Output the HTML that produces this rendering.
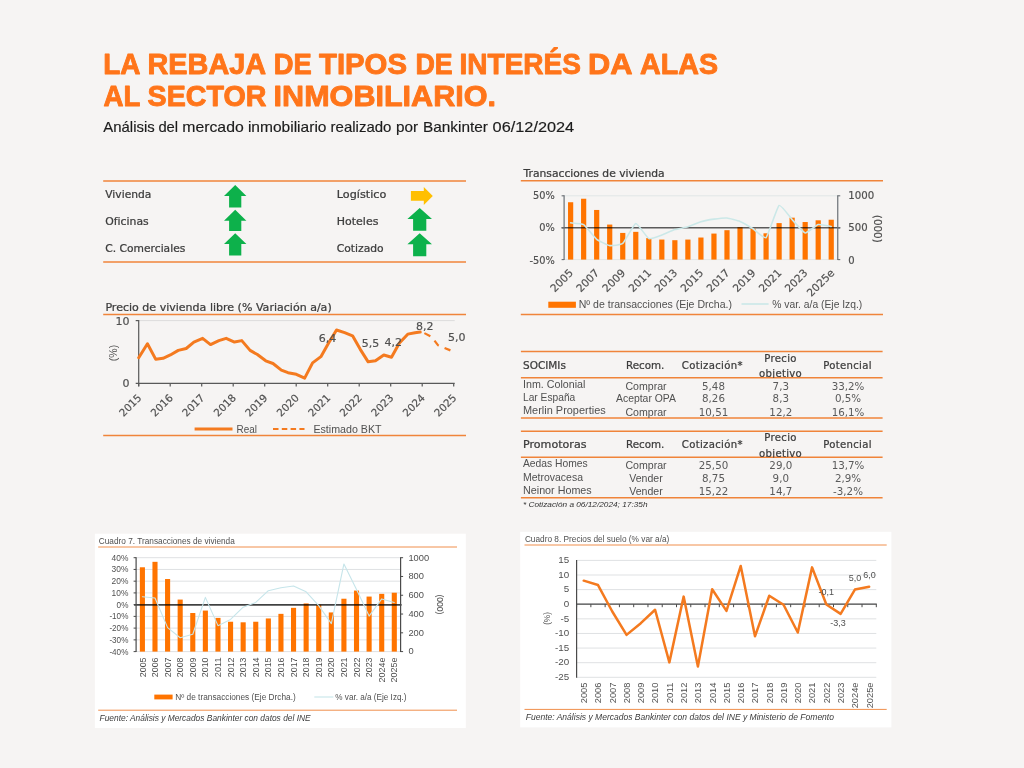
<!DOCTYPE html>
<html lang="es">
<head>
<meta charset="utf-8">
<title>La rebaja de tipos de interés da alas al sector inmobiliario</title>
<style>
html,body{margin:0;padding:0;background:#f6f4f3;}
body{width:1024px;height:768px;overflow:hidden;}
svg{display:block;font-family:'Liberation Sans', sans-serif;}
</style>
</head>
<body>
<svg width="1024" height="768" viewBox="0 0 1024 768">
<rect width="1024" height="768" fill="#f6f4f3"/>
<g id="header">
<text aria-label="LA REBAJA DE TIPOS DE INTERÉS DA ALAS" y="74.25" font-size="29.3" font-weight="bold" fill="#ff751a" stroke="#ff751a" stroke-width="0.9" stroke-linejoin="round" xml:space="preserve"><tspan x="103.20" textLength="36.22" lengthAdjust="spacingAndGlyphs">LA</tspan> <tspan x="147.50" textLength="117.50" lengthAdjust="spacingAndGlyphs">REBAJA</tspan> <tspan x="273.80" textLength="38.00" lengthAdjust="spacingAndGlyphs">DE</tspan> <tspan x="319.00" textLength="87.99" lengthAdjust="spacingAndGlyphs">TIPOS</tspan> <tspan x="415.40" textLength="37.24" lengthAdjust="spacingAndGlyphs">DE</tspan> <tspan x="459.50" textLength="121.52" lengthAdjust="spacingAndGlyphs">INTERÉS</tspan> <tspan x="588.00" textLength="43.38" lengthAdjust="spacingAndGlyphs">DA</tspan> <tspan x="640.00" textLength="78.00" lengthAdjust="spacingAndGlyphs">ALAS</tspan></text>
<text aria-label="AL SECTOR INMOBILIARIO." y="106.20" font-size="29.3" font-weight="bold" fill="#ff751a" stroke="#ff751a" stroke-width="0.9" stroke-linejoin="round" xml:space="preserve"><tspan x="103.40" textLength="36.41" lengthAdjust="spacingAndGlyphs">AL</tspan> <tspan x="147.60" textLength="118.80" lengthAdjust="spacingAndGlyphs">SECTOR</tspan> <tspan x="273.60" textLength="222.43" lengthAdjust="spacingAndGlyphs">INMOBILIARIO.</tspan></text>
<text aria-label="Análisis del mercado inmobiliario realizado por Bankinter 06/12/2024" y="131.70" font-size="13.9" fill="#1c1c1c" stroke="#1c1c1c" stroke-width="0.15" xml:space="preserve"><tspan x="103.30" textLength="51.40" lengthAdjust="spacingAndGlyphs">Análisis</tspan> <tspan x="158.40" textLength="19.70" lengthAdjust="spacingAndGlyphs">del</tspan> <tspan x="182.30" textLength="61.40" lengthAdjust="spacingAndGlyphs">mercado</tspan> <tspan x="247.90" textLength="78.60" lengthAdjust="spacingAndGlyphs">inmobiliario</tspan> <tspan x="330.60" textLength="60.80" lengthAdjust="spacingAndGlyphs">realizado</tspan> <tspan x="396.00" textLength="22.10" lengthAdjust="spacingAndGlyphs">por</tspan> <tspan x="423.00" textLength="64.90" lengthAdjust="spacingAndGlyphs">Bankinter</tspan> <tspan x="492.60" textLength="81.60" lengthAdjust="spacingAndGlyphs">06/12/2024</tspan></text>
</g>
<g id="sectores">
<line x1="103.20" y1="180.90" x2="466.00" y2="180.90" stroke="#f0843a" stroke-width="1.5"/>
<line x1="103.20" y1="261.90" x2="466.00" y2="261.90" stroke="#f0843a" stroke-width="1.5"/>
<text x="105.30" y="197.90" font-size="10.1" fill="#3c3c3c" textLength="46.00" lengthAdjust="spacingAndGlyphs" font-family="'DejaVu Sans', 'Liberation Sans', sans-serif" stroke="#3c3c3c" stroke-width="0.24">Vivienda</text>
<text x="105.30" y="225.20" font-size="10.1" fill="#3c3c3c" textLength="43.40" lengthAdjust="spacingAndGlyphs" font-family="'DejaVu Sans', 'Liberation Sans', sans-serif" stroke="#3c3c3c" stroke-width="0.24">Oficinas</text>
<text x="105.30" y="252.30" font-size="10.1" fill="#3c3c3c" textLength="80.00" lengthAdjust="spacingAndGlyphs" font-family="'DejaVu Sans', 'Liberation Sans', sans-serif" stroke="#3c3c3c" stroke-width="0.24">C. Comerciales</text>
<text x="336.80" y="197.90" font-size="10.1" fill="#3c3c3c" textLength="49.50" lengthAdjust="spacingAndGlyphs" font-family="'DejaVu Sans', 'Liberation Sans', sans-serif" stroke="#3c3c3c" stroke-width="0.24">Logístico</text>
<text x="336.80" y="225.20" font-size="10.1" fill="#3c3c3c" textLength="41.60" lengthAdjust="spacingAndGlyphs" font-family="'DejaVu Sans', 'Liberation Sans', sans-serif" stroke="#3c3c3c" stroke-width="0.24">Hoteles</text>
<text x="336.80" y="252.30" font-size="10.1" fill="#3c3c3c" textLength="46.90" lengthAdjust="spacingAndGlyphs" font-family="'DejaVu Sans', 'Liberation Sans', sans-serif" stroke="#3c3c3c" stroke-width="0.24">Cotizado</text>
<path d="M235.20 185.00 L246.40 195.90 L241.30 195.90 L241.30 207.50 L229.10 207.50 L229.10 195.90 L224.00 195.90 Z" fill="#0db14b"/>
<path d="M235.20 209.80 L246.40 220.70 L241.30 220.70 L241.30 231.10 L229.10 231.10 L229.10 220.70 L224.00 220.70 Z" fill="#0db14b"/>
<path d="M235.20 233.20 L246.40 244.10 L241.30 244.10 L241.30 255.40 L229.10 255.40 L229.10 244.10 L224.00 244.10 Z" fill="#0db14b"/>
<path d="M419.70 208.00 L432.00 219.00 L426.30 219.00 L426.30 230.80 L413.10 230.80 L413.10 219.00 L407.40 219.00 Z" fill="#0db14b"/>
<path d="M419.70 233.20 L432.00 244.20 L426.30 244.20 L426.30 256.20 L413.10 256.20 L413.10 244.20 L407.40 244.20 Z" fill="#0db14b"/>
<path d="M410.9 190.9 L423.8 190.9 L423.8 186.9 L432.8 195.9 L423.8 205.0 L423.8 200.8 L410.9 200.8 Z" fill="#ffbf00"/>
</g>
<g id="grafico-precio-vivienda">
<text x="105.40" y="311.20" font-size="10.6" fill="#3c3c3c" textLength="226.30" lengthAdjust="spacingAndGlyphs" font-family="'DejaVu Sans', 'Liberation Sans', sans-serif" stroke="#3c3c3c" stroke-width="0.24">Precio de vivienda libre (% Variación a/a)</text>
<line x1="103.20" y1="314.60" x2="466.00" y2="314.60" stroke="#f0843a" stroke-width="1.5"/>
<line x1="103.20" y1="435.50" x2="466.00" y2="435.50" stroke="#f0843a" stroke-width="1.5"/>
<line x1="138.70" y1="320.60" x2="454.70" y2="320.60" stroke="#dcdcdc" stroke-width="1"/>
<line x1="138.70" y1="320.10" x2="138.70" y2="386.30" stroke="#595959" stroke-width="1.2"/>
<line x1="135.70" y1="383.30" x2="454.70" y2="383.30" stroke="#595959" stroke-width="1.2"/>
<line x1="135.70" y1="320.60" x2="138.70" y2="320.60" stroke="#595959" stroke-width="1.2"/>
<line x1="138.70" y1="383.30" x2="138.70" y2="386.50" stroke="#595959" stroke-width="1.2"/>
<text transform="translate(142.20 398.50) rotate(-45)" font-size="10.4" fill="#505050" text-anchor="end" font-family="'DejaVu Sans', 'Liberation Sans', sans-serif" stroke="#505050" stroke-width="0.18">2015</text>
<line x1="170.20" y1="383.30" x2="170.20" y2="386.50" stroke="#595959" stroke-width="1.2"/>
<text transform="translate(173.70 398.50) rotate(-45)" font-size="10.4" fill="#505050" text-anchor="end" font-family="'DejaVu Sans', 'Liberation Sans', sans-serif" stroke="#505050" stroke-width="0.18">2016</text>
<line x1="201.70" y1="383.30" x2="201.70" y2="386.50" stroke="#595959" stroke-width="1.2"/>
<text transform="translate(205.20 398.50) rotate(-45)" font-size="10.4" fill="#505050" text-anchor="end" font-family="'DejaVu Sans', 'Liberation Sans', sans-serif" stroke="#505050" stroke-width="0.18">2017</text>
<line x1="233.20" y1="383.30" x2="233.20" y2="386.50" stroke="#595959" stroke-width="1.2"/>
<text transform="translate(236.70 398.50) rotate(-45)" font-size="10.4" fill="#505050" text-anchor="end" font-family="'DejaVu Sans', 'Liberation Sans', sans-serif" stroke="#505050" stroke-width="0.18">2018</text>
<line x1="264.70" y1="383.30" x2="264.70" y2="386.50" stroke="#595959" stroke-width="1.2"/>
<text transform="translate(268.20 398.50) rotate(-45)" font-size="10.4" fill="#505050" text-anchor="end" font-family="'DejaVu Sans', 'Liberation Sans', sans-serif" stroke="#505050" stroke-width="0.18">2019</text>
<line x1="296.20" y1="383.30" x2="296.20" y2="386.50" stroke="#595959" stroke-width="1.2"/>
<text transform="translate(299.70 398.50) rotate(-45)" font-size="10.4" fill="#505050" text-anchor="end" font-family="'DejaVu Sans', 'Liberation Sans', sans-serif" stroke="#505050" stroke-width="0.18">2020</text>
<line x1="327.70" y1="383.30" x2="327.70" y2="386.50" stroke="#595959" stroke-width="1.2"/>
<text transform="translate(331.20 398.50) rotate(-45)" font-size="10.4" fill="#505050" text-anchor="end" font-family="'DejaVu Sans', 'Liberation Sans', sans-serif" stroke="#505050" stroke-width="0.18">2021</text>
<line x1="359.20" y1="383.30" x2="359.20" y2="386.50" stroke="#595959" stroke-width="1.2"/>
<text transform="translate(362.70 398.50) rotate(-45)" font-size="10.4" fill="#505050" text-anchor="end" font-family="'DejaVu Sans', 'Liberation Sans', sans-serif" stroke="#505050" stroke-width="0.18">2022</text>
<line x1="390.70" y1="383.30" x2="390.70" y2="386.50" stroke="#595959" stroke-width="1.2"/>
<text transform="translate(394.20 398.50) rotate(-45)" font-size="10.4" fill="#505050" text-anchor="end" font-family="'DejaVu Sans', 'Liberation Sans', sans-serif" stroke="#505050" stroke-width="0.18">2023</text>
<line x1="422.20" y1="383.30" x2="422.20" y2="386.50" stroke="#595959" stroke-width="1.2"/>
<text transform="translate(425.70 398.50) rotate(-45)" font-size="10.4" fill="#505050" text-anchor="end" font-family="'DejaVu Sans', 'Liberation Sans', sans-serif" stroke="#505050" stroke-width="0.18">2024</text>
<line x1="453.70" y1="383.30" x2="453.70" y2="386.50" stroke="#595959" stroke-width="1.2"/>
<text transform="translate(457.20 398.50) rotate(-45)" font-size="10.4" fill="#505050" text-anchor="end" font-family="'DejaVu Sans', 'Liberation Sans', sans-serif" stroke="#505050" stroke-width="0.18">2025</text>
<text x="129.50" y="324.60" font-size="11" fill="#505050" text-anchor="end" font-family="'DejaVu Sans', 'Liberation Sans', sans-serif" stroke="#505050" stroke-width="0.18">10</text>
<text x="129.50" y="387.30" font-size="11" fill="#505050" text-anchor="end" font-family="'DejaVu Sans', 'Liberation Sans', sans-serif" stroke="#505050" stroke-width="0.18">0</text>
<text transform="translate(117.30 353.00) rotate(-90)" font-size="10.5" fill="#505050" text-anchor="middle">(%)</text>
<polyline points="138.69,357.68 147.44,343.73 155.77,359.34 163.05,358.30 170.34,354.97 178.26,350.39 186.17,348.52 193.87,342.06 202.62,338.31 210.53,344.56 218.86,340.60 226.15,338.31 234.48,342.06 241.77,340.60 250.10,350.39 257.39,354.56 265.72,360.80 273.01,363.51 281.34,370.17 288.00,372.67 296.33,374.34 304.66,378.09 312.57,362.89 320.90,356.64 328.61,343.10 336.52,329.98 344.64,332.69 352.56,335.81 360.26,349.35 368.17,361.84 375.46,360.80 383.79,354.97 391.50,357.26 399.41,343.10 407.74,334.15 415.03,332.69 420.23,332.07" fill="none" stroke="#f47a1f" stroke-width="3.0" stroke-linejoin="round" stroke-linecap="round"/>
<polyline points="424.40,333.11 431.69,336.85 437.93,345.18 450.43,350.39" fill="none" stroke="#f47a1f" stroke-width="2.2" stroke-linejoin="round" stroke-linecap="butt" stroke-dasharray="6.7 6.2"/>
<text x="327.50" y="342.00" font-size="11" fill="#505050" text-anchor="middle" font-family="'DejaVu Sans', 'Liberation Sans', sans-serif" stroke="#505050" stroke-width="0.18">6,4</text>
<text x="370.50" y="347.00" font-size="11" fill="#505050" text-anchor="middle" font-family="'DejaVu Sans', 'Liberation Sans', sans-serif" stroke="#505050" stroke-width="0.18">5,5</text>
<text x="393.20" y="345.50" font-size="11" fill="#505050" text-anchor="middle" font-family="'DejaVu Sans', 'Liberation Sans', sans-serif" stroke="#505050" stroke-width="0.18">4,2</text>
<text x="424.70" y="330.00" font-size="11" fill="#505050" text-anchor="middle" font-family="'DejaVu Sans', 'Liberation Sans', sans-serif" stroke="#505050" stroke-width="0.18">8,2</text>
<text x="456.70" y="341.00" font-size="11" fill="#505050" text-anchor="middle" font-family="'DejaVu Sans', 'Liberation Sans', sans-serif" stroke="#505050" stroke-width="0.18">5,0</text>
<line x1="194.60" y1="429.00" x2="232.50" y2="429.00" stroke="#f47a1f" stroke-width="2.8"/>
<text x="236.50" y="432.80" font-size="11.5" fill="#505050" textLength="20.40" lengthAdjust="spacingAndGlyphs">Real</text>
<line x1="273.00" y1="429.00" x2="304.50" y2="429.00" stroke="#f47a1f" stroke-width="1.8" stroke-dasharray="5.5 3.3"/>
<text x="313.40" y="432.80" font-size="11.5" fill="#505050" textLength="68.20" lengthAdjust="spacingAndGlyphs">Estimado BKT</text>
</g>
<g id="grafico-transacciones">
<text x="523.50" y="176.80" font-size="10.1" fill="#3c3c3c" textLength="141.20" lengthAdjust="spacingAndGlyphs" font-family="'DejaVu Sans', 'Liberation Sans', sans-serif" stroke="#3c3c3c" stroke-width="0.24">Transacciones de vivienda</text>
<line x1="520.80" y1="180.80" x2="883.00" y2="180.80" stroke="#f0843a" stroke-width="1.5"/>
<line x1="520.80" y1="314.60" x2="883.00" y2="314.60" stroke="#f0843a" stroke-width="1.5"/>
<line x1="564.10" y1="195.80" x2="837.75" y2="195.80" stroke="#e2e6e6" stroke-width="1"/>
<line x1="564.10" y1="259.60" x2="837.75" y2="259.60" stroke="#e2e6e6" stroke-width="1"/>
<rect x="568.02" y="202.24" width="5.20" height="57.36" fill="#ff7400"/>
<rect x="581.05" y="198.73" width="5.20" height="60.87" fill="#ff7400"/>
<rect x="594.08" y="209.96" width="5.20" height="49.64" fill="#ff7400"/>
<rect x="607.11" y="224.57" width="5.20" height="35.03" fill="#ff7400"/>
<rect x="620.14" y="232.93" width="5.20" height="26.67" fill="#ff7400"/>
<rect x="633.17" y="231.85" width="5.20" height="27.75" fill="#ff7400"/>
<rect x="646.20" y="238.10" width="5.20" height="21.50" fill="#ff7400"/>
<rect x="659.23" y="239.57" width="5.20" height="20.03" fill="#ff7400"/>
<rect x="672.26" y="240.20" width="5.20" height="19.40" fill="#ff7400"/>
<rect x="685.29" y="239.57" width="5.20" height="20.03" fill="#ff7400"/>
<rect x="698.32" y="237.53" width="5.20" height="22.07" fill="#ff7400"/>
<rect x="711.36" y="233.57" width="5.20" height="26.03" fill="#ff7400"/>
<rect x="724.39" y="230.19" width="5.20" height="29.41" fill="#ff7400"/>
<rect x="737.42" y="227.06" width="5.20" height="32.54" fill="#ff7400"/>
<rect x="750.45" y="228.72" width="5.20" height="30.88" fill="#ff7400"/>
<rect x="763.48" y="233.31" width="5.20" height="26.29" fill="#ff7400"/>
<rect x="776.51" y="223.11" width="5.20" height="36.49" fill="#ff7400"/>
<rect x="789.54" y="217.68" width="5.20" height="41.92" fill="#ff7400"/>
<rect x="802.57" y="222.02" width="5.20" height="37.58" fill="#ff7400"/>
<rect x="815.60" y="220.30" width="5.20" height="39.30" fill="#ff7400"/>
<rect x="828.63" y="219.73" width="5.20" height="39.88" fill="#ff7400"/>
<line x1="561.60" y1="227.80" x2="840.25" y2="227.80" stroke="#5e5e5e" stroke-width="1.4" style="mix-blend-mode:multiply"/>
<line x1="564.10" y1="195.30" x2="564.10" y2="260.10" stroke="#6b7076" stroke-width="1.2"/>
<line x1="837.75" y1="195.30" x2="837.75" y2="260.10" stroke="#6b7076" stroke-width="1.2"/>
<line x1="561.60" y1="195.80" x2="564.10" y2="195.80" stroke="#6b7076" stroke-width="1.1"/>
<line x1="837.75" y1="195.80" x2="840.25" y2="195.80" stroke="#6b7076" stroke-width="1.1"/>
<line x1="561.60" y1="227.80" x2="564.10" y2="227.80" stroke="#6b7076" stroke-width="1.1"/>
<line x1="837.75" y1="227.80" x2="840.25" y2="227.80" stroke="#6b7076" stroke-width="1.1"/>
<line x1="561.60" y1="259.60" x2="564.10" y2="259.60" stroke="#6b7076" stroke-width="1.1"/>
<line x1="837.75" y1="259.60" x2="840.25" y2="259.60" stroke="#6b7076" stroke-width="1.1"/>
<path d="M570.62 222.81 C571.48 222.93 581.91 223.50 583.65 224.60 C585.38 225.70 594.94 237.92 596.68 239.32 C598.41 240.72 607.97 245.31 609.71 245.59 C611.45 245.87 621.00 244.95 622.74 243.48 C624.48 242.01 634.03 223.90 635.77 223.58 C637.51 223.25 647.06 237.79 648.80 238.55 C650.54 239.31 660.09 235.57 661.83 234.97 C663.57 234.37 673.13 230.13 674.86 229.59 C676.60 229.05 686.16 227.36 687.89 226.84 C689.63 226.32 699.19 222.23 700.92 221.72 C702.66 221.21 712.22 219.41 713.96 219.16 C715.69 218.91 725.25 217.86 726.99 218.01 C728.72 218.16 738.28 220.68 740.02 221.40 C741.76 222.12 751.31 227.68 753.05 228.76 C754.79 229.84 764.34 239.15 766.08 237.59 C767.82 236.04 777.37 206.66 779.11 205.46 C780.85 204.27 790.40 217.78 792.14 219.61 C793.88 221.44 803.44 232.60 805.17 232.92 C806.91 233.24 816.47 224.90 818.20 224.47 C819.94 224.04 830.37 226.32 831.23 226.46" fill="none" stroke="#cbe8e8" stroke-width="1.6" stroke-linejoin="round" stroke-linecap="round"/>
<text x="554.90" y="199.40" font-size="9.8" fill="#505050" text-anchor="end" font-family="'DejaVu Sans', 'Liberation Sans', sans-serif" stroke="#505050" stroke-width="0.18">50%</text>
<text x="554.90" y="231.40" font-size="9.8" fill="#505050" text-anchor="end" font-family="'DejaVu Sans', 'Liberation Sans', sans-serif" stroke="#505050" stroke-width="0.18">0%</text>
<text x="554.90" y="264.20" font-size="9.8" fill="#505050" text-anchor="end" font-family="'DejaVu Sans', 'Liberation Sans', sans-serif" stroke="#505050" stroke-width="0.18">-50%</text>
<text x="848.30" y="199.40" font-size="9.8" fill="#505050" textLength="26.00" lengthAdjust="spacingAndGlyphs" font-family="'DejaVu Sans', 'Liberation Sans', sans-serif" stroke="#505050" stroke-width="0.18">1000</text>
<text x="848.30" y="231.40" font-size="9.8" fill="#505050" textLength="19.30" lengthAdjust="spacingAndGlyphs" font-family="'DejaVu Sans', 'Liberation Sans', sans-serif" stroke="#505050" stroke-width="0.18">500</text>
<text x="848.30" y="264.20" font-size="9.8" fill="#505050" textLength="6.40" lengthAdjust="spacingAndGlyphs" font-family="'DejaVu Sans', 'Liberation Sans', sans-serif" stroke="#505050" stroke-width="0.18">0</text>
<text transform="translate(873.80 228.80) rotate(90)" font-size="10.4" fill="#505050" text-anchor="middle" font-family="'DejaVu Sans', 'Liberation Sans', sans-serif" stroke="#505050" stroke-width="0.18">(000)</text>
<text transform="translate(573.82 273.60) rotate(-45)" font-size="10.6" fill="#505050" text-anchor="end" font-family="'DejaVu Sans', 'Liberation Sans', sans-serif" stroke="#505050" stroke-width="0.18">2005</text>
<text transform="translate(599.88 273.60) rotate(-45)" font-size="10.6" fill="#505050" text-anchor="end" font-family="'DejaVu Sans', 'Liberation Sans', sans-serif" stroke="#505050" stroke-width="0.18">2007</text>
<text transform="translate(625.94 273.60) rotate(-45)" font-size="10.6" fill="#505050" text-anchor="end" font-family="'DejaVu Sans', 'Liberation Sans', sans-serif" stroke="#505050" stroke-width="0.18">2009</text>
<text transform="translate(652.00 273.60) rotate(-45)" font-size="10.6" fill="#505050" text-anchor="end" font-family="'DejaVu Sans', 'Liberation Sans', sans-serif" stroke="#505050" stroke-width="0.18">2011</text>
<text transform="translate(678.06 273.60) rotate(-45)" font-size="10.6" fill="#505050" text-anchor="end" font-family="'DejaVu Sans', 'Liberation Sans', sans-serif" stroke="#505050" stroke-width="0.18">2013</text>
<text transform="translate(704.12 273.60) rotate(-45)" font-size="10.6" fill="#505050" text-anchor="end" font-family="'DejaVu Sans', 'Liberation Sans', sans-serif" stroke="#505050" stroke-width="0.18">2015</text>
<text transform="translate(730.19 273.60) rotate(-45)" font-size="10.6" fill="#505050" text-anchor="end" font-family="'DejaVu Sans', 'Liberation Sans', sans-serif" stroke="#505050" stroke-width="0.18">2017</text>
<text transform="translate(756.25 273.60) rotate(-45)" font-size="10.6" fill="#505050" text-anchor="end" font-family="'DejaVu Sans', 'Liberation Sans', sans-serif" stroke="#505050" stroke-width="0.18">2019</text>
<text transform="translate(782.31 273.60) rotate(-45)" font-size="10.6" fill="#505050" text-anchor="end" font-family="'DejaVu Sans', 'Liberation Sans', sans-serif" stroke="#505050" stroke-width="0.18">2021</text>
<text transform="translate(808.37 273.60) rotate(-45)" font-size="10.6" fill="#505050" text-anchor="end" font-family="'DejaVu Sans', 'Liberation Sans', sans-serif" stroke="#505050" stroke-width="0.18">2023</text>
<text transform="translate(835.03 273.60) rotate(-45)" font-size="10.6" fill="#505050" text-anchor="end" font-family="'DejaVu Sans', 'Liberation Sans', sans-serif" stroke="#505050" stroke-width="0.18">2025e</text>
<rect x="548.30" y="301.70" width="27.60" height="6.10" fill="#ff7400"/>
<text x="578.70" y="308.30" font-size="10.5" fill="#505050" textLength="153.30" lengthAdjust="spacingAndGlyphs">Nº de transacciones (Eje Drcha.)</text>
<line x1="741.50" y1="304.00" x2="768.60" y2="304.00" stroke="#cbe8e8" stroke-width="1.6"/>
<text x="772.30" y="308.30" font-size="10.5" fill="#505050" textLength="90.00" lengthAdjust="spacingAndGlyphs">% var. a/a (Eje Izq.)</text>
</g>
<g id="tablas">
<defs><clipPath id="c377"><rect x="740" y="360" width="90" height="17.8"/></clipPath><clipPath id="c457"><rect x="740" y="440" width="90" height="17.5"/></clipPath></defs>
<line x1="520.90" y1="351.60" x2="882.60" y2="351.60" stroke="#f0843a" stroke-width="1.5"/>
<line x1="520.90" y1="377.80" x2="882.60" y2="377.80" stroke="#f0843a" stroke-width="1.5"/>
<line x1="520.90" y1="418.10" x2="882.60" y2="418.10" stroke="#f0843a" stroke-width="1.5"/>
<text x="523.00" y="368.60" font-size="10.1" fill="#3c3c3c" textLength="42.90" lengthAdjust="spacingAndGlyphs" font-family="'DejaVu Sans', 'Liberation Sans', sans-serif" stroke="#3c3c3c" stroke-width="0.24">SOCIMIs</text>
<text x="645.20" y="368.60" font-size="10.1" fill="#3c3c3c" text-anchor="middle" textLength="38.40" lengthAdjust="spacingAndGlyphs" font-family="'DejaVu Sans', 'Liberation Sans', sans-serif" stroke="#3c3c3c" stroke-width="0.24">Recom.</text>
<text x="712.30" y="368.60" font-size="10.1" fill="#3c3c3c" text-anchor="middle" letter-spacing="0.32" font-family="'DejaVu Sans', 'Liberation Sans', sans-serif" stroke="#3c3c3c" stroke-width="0.24">Cotización*</text>
<text x="780.60" y="361.60" font-size="10.1" fill="#3c3c3c" text-anchor="middle" letter-spacing="0.32" font-family="'DejaVu Sans', 'Liberation Sans', sans-serif" stroke="#3c3c3c" stroke-width="0.24">Precio</text>
<g clip-path="url(#c377)">
<text x="780.60" y="376.80" font-size="10.1" fill="#3c3c3c" text-anchor="middle" letter-spacing="0.32" font-family="'DejaVu Sans', 'Liberation Sans', sans-serif" stroke="#3c3c3c" stroke-width="0.24">objetivo</text>
</g>
<text x="847.50" y="368.60" font-size="10.1" fill="#3c3c3c" text-anchor="middle" letter-spacing="0.32" font-family="'DejaVu Sans', 'Liberation Sans', sans-serif" stroke="#3c3c3c" stroke-width="0.24">Potencial</text>
<text x="523.00" y="387.60" font-size="11" fill="#505050" textLength="62.40" lengthAdjust="spacingAndGlyphs">Inm. Colonial</text>
<text x="646.00" y="389.70" font-size="11" fill="#505050" text-anchor="middle" textLength="41.20" lengthAdjust="spacingAndGlyphs">Comprar</text>
<text x="713.50" y="389.70" font-size="10.3" fill="#5a5a5a" text-anchor="middle" font-family="'DejaVu Sans', 'Liberation Sans', sans-serif">5,48</text>
<text x="780.80" y="389.70" font-size="10.3" fill="#5a5a5a" text-anchor="middle" font-family="'DejaVu Sans', 'Liberation Sans', sans-serif">7,3</text>
<text x="848.00" y="389.70" font-size="10.3" fill="#5a5a5a" text-anchor="middle" font-family="'DejaVu Sans', 'Liberation Sans', sans-serif">33,2%</text>
<text x="523.00" y="401.00" font-size="11" fill="#505050" textLength="52.30" lengthAdjust="spacingAndGlyphs">Lar España</text>
<text x="646.00" y="402.20" font-size="11" fill="#505050" text-anchor="middle" textLength="60.00" lengthAdjust="spacingAndGlyphs">Aceptar OPA</text>
<text x="713.50" y="402.20" font-size="10.3" fill="#5a5a5a" text-anchor="middle" font-family="'DejaVu Sans', 'Liberation Sans', sans-serif">8,26</text>
<text x="780.80" y="402.20" font-size="10.3" fill="#5a5a5a" text-anchor="middle" font-family="'DejaVu Sans', 'Liberation Sans', sans-serif">8,3</text>
<text x="848.00" y="402.20" font-size="10.3" fill="#5a5a5a" text-anchor="middle" font-family="'DejaVu Sans', 'Liberation Sans', sans-serif">0,5%</text>
<text x="523.00" y="414.30" font-size="11" fill="#505050" textLength="82.70" lengthAdjust="spacingAndGlyphs">Merlin Properties</text>
<text x="646.00" y="415.50" font-size="11" fill="#505050" text-anchor="middle" textLength="41.20" lengthAdjust="spacingAndGlyphs">Comprar</text>
<text x="713.50" y="415.50" font-size="10.3" fill="#5a5a5a" text-anchor="middle" font-family="'DejaVu Sans', 'Liberation Sans', sans-serif">10,51</text>
<text x="780.80" y="415.50" font-size="10.3" fill="#5a5a5a" text-anchor="middle" font-family="'DejaVu Sans', 'Liberation Sans', sans-serif">12,2</text>
<text x="848.00" y="415.50" font-size="10.3" fill="#5a5a5a" text-anchor="middle" font-family="'DejaVu Sans', 'Liberation Sans', sans-serif">16,1%</text>
<line x1="520.90" y1="431.30" x2="882.60" y2="431.30" stroke="#f0843a" stroke-width="1.5"/>
<line x1="520.90" y1="457.30" x2="882.60" y2="457.30" stroke="#f0843a" stroke-width="1.5"/>
<line x1="520.90" y1="497.80" x2="882.60" y2="497.80" stroke="#f0843a" stroke-width="1.5"/>
<text x="523.00" y="448.30" font-size="10.1" fill="#3c3c3c" textLength="63.50" lengthAdjust="spacingAndGlyphs" font-family="'DejaVu Sans', 'Liberation Sans', sans-serif" stroke="#3c3c3c" stroke-width="0.24">Promotoras</text>
<text x="645.20" y="448.30" font-size="10.1" fill="#3c3c3c" text-anchor="middle" textLength="38.40" lengthAdjust="spacingAndGlyphs" font-family="'DejaVu Sans', 'Liberation Sans', sans-serif" stroke="#3c3c3c" stroke-width="0.24">Recom.</text>
<text x="712.30" y="448.30" font-size="10.1" fill="#3c3c3c" text-anchor="middle" letter-spacing="0.32" font-family="'DejaVu Sans', 'Liberation Sans', sans-serif" stroke="#3c3c3c" stroke-width="0.24">Cotización*</text>
<text x="780.60" y="441.20" font-size="10.1" fill="#3c3c3c" text-anchor="middle" letter-spacing="0.32" font-family="'DejaVu Sans', 'Liberation Sans', sans-serif" stroke="#3c3c3c" stroke-width="0.24">Precio</text>
<g clip-path="url(#c457)">
<text x="780.60" y="456.50" font-size="10.1" fill="#3c3c3c" text-anchor="middle" letter-spacing="0.32" font-family="'DejaVu Sans', 'Liberation Sans', sans-serif" stroke="#3c3c3c" stroke-width="0.24">objetivo</text>
</g>
<text x="847.50" y="448.30" font-size="10.1" fill="#3c3c3c" text-anchor="middle" letter-spacing="0.32" font-family="'DejaVu Sans', 'Liberation Sans', sans-serif" stroke="#3c3c3c" stroke-width="0.24">Potencial</text>
<text x="523.00" y="467.10" font-size="11" fill="#505050" textLength="64.70" lengthAdjust="spacingAndGlyphs">Aedas Homes</text>
<text x="646.00" y="468.80" font-size="11" fill="#505050" text-anchor="middle" textLength="41.20" lengthAdjust="spacingAndGlyphs">Comprar</text>
<text x="713.50" y="468.80" font-size="10.3" fill="#5a5a5a" text-anchor="middle" font-family="'DejaVu Sans', 'Liberation Sans', sans-serif">25,50</text>
<text x="780.80" y="468.80" font-size="10.3" fill="#5a5a5a" text-anchor="middle" font-family="'DejaVu Sans', 'Liberation Sans', sans-serif">29,0</text>
<text x="848.00" y="468.80" font-size="10.3" fill="#5a5a5a" text-anchor="middle" font-family="'DejaVu Sans', 'Liberation Sans', sans-serif">13,7%</text>
<text x="523.00" y="480.50" font-size="11" fill="#505050" textLength="60.00" lengthAdjust="spacingAndGlyphs">Metrovacesa</text>
<text x="646.00" y="481.80" font-size="11" fill="#505050" text-anchor="middle" textLength="33.40" lengthAdjust="spacingAndGlyphs">Vender</text>
<text x="713.50" y="481.80" font-size="10.3" fill="#5a5a5a" text-anchor="middle" font-family="'DejaVu Sans', 'Liberation Sans', sans-serif">8,75</text>
<text x="780.80" y="481.80" font-size="10.3" fill="#5a5a5a" text-anchor="middle" font-family="'DejaVu Sans', 'Liberation Sans', sans-serif">9,0</text>
<text x="848.00" y="481.80" font-size="10.3" fill="#5a5a5a" text-anchor="middle" font-family="'DejaVu Sans', 'Liberation Sans', sans-serif">2,9%</text>
<text x="523.00" y="493.70" font-size="11" fill="#505050" textLength="68.70" lengthAdjust="spacingAndGlyphs">Neinor Homes</text>
<text x="646.00" y="495.20" font-size="11" fill="#505050" text-anchor="middle" textLength="33.40" lengthAdjust="spacingAndGlyphs">Vender</text>
<text x="713.50" y="495.20" font-size="10.3" fill="#5a5a5a" text-anchor="middle" font-family="'DejaVu Sans', 'Liberation Sans', sans-serif">15,22</text>
<text x="780.80" y="495.20" font-size="10.3" fill="#5a5a5a" text-anchor="middle" font-family="'DejaVu Sans', 'Liberation Sans', sans-serif">14,7</text>
<text x="848.00" y="495.20" font-size="10.3" fill="#5a5a5a" text-anchor="middle" font-family="'DejaVu Sans', 'Liberation Sans', sans-serif">-3,2%</text>
<text x="523.00" y="507.00" font-size="7.3" fill="#303030" font-style="italic" textLength="124.50" lengthAdjust="spacingAndGlyphs">* Cotización a 06/12/2024; 17:35h</text>
</g>
<g id="cuadro-7">
<rect x="94.90" y="533.70" width="370.90" height="194.30" fill="#ffffff"/>
<text x="98.80" y="544.10" font-size="9" fill="#505050" textLength="136.00" lengthAdjust="spacingAndGlyphs">Cuadro 7. Transacciones de vivienda</text>
<line x1="98.20" y1="547.00" x2="457.00" y2="547.00" stroke="#f08f4c" stroke-width="1.0"/>
<line x1="98.20" y1="710.20" x2="457.00" y2="710.20" stroke="#f08f4c" stroke-width="1.0"/>
<line x1="136.10" y1="557.70" x2="400.60" y2="557.70" stroke="#dfe1e3" stroke-width="1"/>
<line x1="136.10" y1="569.44" x2="400.60" y2="569.44" stroke="#dfe1e3" stroke-width="1"/>
<line x1="136.10" y1="581.18" x2="400.60" y2="581.18" stroke="#dfe1e3" stroke-width="1"/>
<line x1="136.10" y1="592.91" x2="400.60" y2="592.91" stroke="#dfe1e3" stroke-width="1"/>
<line x1="136.10" y1="604.65" x2="400.60" y2="604.65" stroke="#dfe1e3" stroke-width="1"/>
<line x1="136.10" y1="616.39" x2="400.60" y2="616.39" stroke="#dfe1e3" stroke-width="1"/>
<line x1="136.10" y1="628.12" x2="400.60" y2="628.12" stroke="#dfe1e3" stroke-width="1"/>
<line x1="136.10" y1="639.86" x2="400.60" y2="639.86" stroke="#dfe1e3" stroke-width="1"/>
<line x1="136.10" y1="651.60" x2="400.60" y2="651.60" stroke="#dfe1e3" stroke-width="1"/>
<rect x="139.85" y="567.28" width="5.10" height="84.32" fill="#ff7400"/>
<rect x="152.44" y="561.83" width="5.10" height="89.77" fill="#ff7400"/>
<rect x="165.04" y="579.02" width="5.10" height="72.58" fill="#ff7400"/>
<rect x="177.63" y="599.58" width="5.10" height="52.02" fill="#ff7400"/>
<rect x="190.23" y="613.01" width="5.10" height="38.59" fill="#ff7400"/>
<rect x="202.82" y="610.57" width="5.10" height="41.03" fill="#ff7400"/>
<rect x="215.42" y="617.89" width="5.10" height="33.71" fill="#ff7400"/>
<rect x="228.01" y="621.74" width="5.10" height="29.86" fill="#ff7400"/>
<rect x="240.61" y="622.30" width="5.10" height="29.30" fill="#ff7400"/>
<rect x="253.20" y="621.74" width="5.10" height="29.86" fill="#ff7400"/>
<rect x="265.80" y="618.45" width="5.10" height="33.15" fill="#ff7400"/>
<rect x="278.40" y="613.85" width="5.10" height="37.75" fill="#ff7400"/>
<rect x="290.99" y="607.84" width="5.10" height="43.76" fill="#ff7400"/>
<rect x="303.59" y="603.43" width="5.10" height="48.17" fill="#ff7400"/>
<rect x="316.18" y="604.74" width="5.10" height="46.86" fill="#ff7400"/>
<rect x="328.78" y="612.44" width="5.10" height="39.16" fill="#ff7400"/>
<rect x="341.37" y="598.73" width="5.10" height="52.87" fill="#ff7400"/>
<rect x="353.97" y="590.57" width="5.10" height="61.03" fill="#ff7400"/>
<rect x="366.56" y="596.57" width="5.10" height="55.03" fill="#ff7400"/>
<rect x="379.16" y="593.85" width="5.10" height="57.75" fill="#ff7400"/>
<rect x="391.75" y="592.72" width="5.10" height="58.88" fill="#ff7400"/>
<line x1="134.10" y1="604.80" x2="401.60" y2="604.80" stroke="#484848" stroke-width="1.7" style="mix-blend-mode:multiply"/>
<line x1="136.10" y1="557.20" x2="136.10" y2="652.10" stroke="#4a4a4a" stroke-width="1.2"/>
<line x1="400.60" y1="557.20" x2="400.60" y2="652.10" stroke="#4a4a4a" stroke-width="1.2"/>
<line x1="133.60" y1="557.70" x2="136.10" y2="557.70" stroke="#4a4a4a" stroke-width="1"/>
<text x="128.40" y="560.70" font-size="9.3" fill="#505050" text-anchor="end" textLength="16.80" lengthAdjust="spacingAndGlyphs">40%</text>
<line x1="133.60" y1="569.44" x2="136.10" y2="569.44" stroke="#4a4a4a" stroke-width="1"/>
<text x="128.40" y="572.44" font-size="9.3" fill="#505050" text-anchor="end" textLength="16.80" lengthAdjust="spacingAndGlyphs">30%</text>
<line x1="133.60" y1="581.18" x2="136.10" y2="581.18" stroke="#4a4a4a" stroke-width="1"/>
<text x="128.40" y="584.18" font-size="9.3" fill="#505050" text-anchor="end" textLength="16.80" lengthAdjust="spacingAndGlyphs">20%</text>
<line x1="133.60" y1="592.91" x2="136.10" y2="592.91" stroke="#4a4a4a" stroke-width="1"/>
<text x="128.40" y="595.91" font-size="9.3" fill="#505050" text-anchor="end" textLength="16.80" lengthAdjust="spacingAndGlyphs">10%</text>
<line x1="133.60" y1="604.65" x2="136.10" y2="604.65" stroke="#4a4a4a" stroke-width="1"/>
<text x="128.40" y="607.65" font-size="9.3" fill="#505050" text-anchor="end" textLength="11.80" lengthAdjust="spacingAndGlyphs">0%</text>
<line x1="133.60" y1="616.39" x2="136.10" y2="616.39" stroke="#4a4a4a" stroke-width="1"/>
<text x="128.40" y="619.39" font-size="9.3" fill="#505050" text-anchor="end" textLength="19.00" lengthAdjust="spacingAndGlyphs">-10%</text>
<line x1="133.60" y1="628.12" x2="136.10" y2="628.12" stroke="#4a4a4a" stroke-width="1"/>
<text x="128.40" y="631.12" font-size="9.3" fill="#505050" text-anchor="end" textLength="19.00" lengthAdjust="spacingAndGlyphs">-20%</text>
<line x1="133.60" y1="639.86" x2="136.10" y2="639.86" stroke="#4a4a4a" stroke-width="1"/>
<text x="128.40" y="642.86" font-size="9.3" fill="#505050" text-anchor="end" textLength="19.00" lengthAdjust="spacingAndGlyphs">-30%</text>
<line x1="133.60" y1="651.60" x2="136.10" y2="651.60" stroke="#4a4a4a" stroke-width="1"/>
<text x="128.40" y="654.60" font-size="9.3" fill="#505050" text-anchor="end" textLength="19.00" lengthAdjust="spacingAndGlyphs">-40%</text>
<line x1="400.60" y1="557.70" x2="403.10" y2="557.70" stroke="#4a4a4a" stroke-width="1"/>
<text x="408.40" y="560.50" font-size="9.3" fill="#505050">1000</text>
<line x1="400.60" y1="576.48" x2="403.10" y2="576.48" stroke="#4a4a4a" stroke-width="1"/>
<text x="408.40" y="579.28" font-size="9.3" fill="#505050">800</text>
<line x1="400.60" y1="595.26" x2="403.10" y2="595.26" stroke="#4a4a4a" stroke-width="1"/>
<text x="408.40" y="598.06" font-size="9.3" fill="#505050">600</text>
<line x1="400.60" y1="614.04" x2="403.10" y2="614.04" stroke="#4a4a4a" stroke-width="1"/>
<text x="408.40" y="616.84" font-size="9.3" fill="#505050">400</text>
<line x1="400.60" y1="632.82" x2="403.10" y2="632.82" stroke="#4a4a4a" stroke-width="1"/>
<text x="408.40" y="635.62" font-size="9.3" fill="#505050">200</text>
<line x1="400.60" y1="651.60" x2="403.10" y2="651.60" stroke="#4a4a4a" stroke-width="1"/>
<text x="408.40" y="654.40" font-size="9.3" fill="#505050">0</text>
<polyline points="142.40,596.79 154.99,597.97 167.59,627.64 180.18,637.77 192.78,634.24 205.37,597.38 217.97,625.64 230.56,619.40 243.16,607.15 255.75,602.44 268.35,590.67 280.95,587.73 293.54,585.96 306.14,591.85 318.73,605.62 331.33,623.64 343.92,563.94 356.52,589.49 369.11,616.10 381.71,598.91 394.30,602.44" fill="none" stroke="#c6e5ea" stroke-width="1.1" stroke-linejoin="round" stroke-linecap="round"/>
<text transform="translate(436.50 604.30) rotate(90)" font-size="8.5" fill="#505050" text-anchor="middle">(000)</text>
<text transform="translate(145.50 657.50) rotate(-90)" font-size="9.7" fill="#505050" text-anchor="end" textLength="19.70" lengthAdjust="spacingAndGlyphs">2005</text>
<text transform="translate(158.09 657.50) rotate(-90)" font-size="9.7" fill="#505050" text-anchor="end" textLength="19.70" lengthAdjust="spacingAndGlyphs">2006</text>
<text transform="translate(170.69 657.50) rotate(-90)" font-size="9.7" fill="#505050" text-anchor="end" textLength="19.70" lengthAdjust="spacingAndGlyphs">2007</text>
<text transform="translate(183.28 657.50) rotate(-90)" font-size="9.7" fill="#505050" text-anchor="end" textLength="19.70" lengthAdjust="spacingAndGlyphs">2008</text>
<text transform="translate(195.88 657.50) rotate(-90)" font-size="9.7" fill="#505050" text-anchor="end" textLength="19.70" lengthAdjust="spacingAndGlyphs">2009</text>
<text transform="translate(208.47 657.50) rotate(-90)" font-size="9.7" fill="#505050" text-anchor="end" textLength="19.70" lengthAdjust="spacingAndGlyphs">2010</text>
<text transform="translate(221.07 657.50) rotate(-90)" font-size="9.7" fill="#505050" text-anchor="end" textLength="19.70" lengthAdjust="spacingAndGlyphs">2011</text>
<text transform="translate(233.66 657.50) rotate(-90)" font-size="9.7" fill="#505050" text-anchor="end" textLength="19.70" lengthAdjust="spacingAndGlyphs">2012</text>
<text transform="translate(246.26 657.50) rotate(-90)" font-size="9.7" fill="#505050" text-anchor="end" textLength="19.70" lengthAdjust="spacingAndGlyphs">2013</text>
<text transform="translate(258.85 657.50) rotate(-90)" font-size="9.7" fill="#505050" text-anchor="end" textLength="19.70" lengthAdjust="spacingAndGlyphs">2014</text>
<text transform="translate(271.45 657.50) rotate(-90)" font-size="9.7" fill="#505050" text-anchor="end" textLength="19.70" lengthAdjust="spacingAndGlyphs">2015</text>
<text transform="translate(284.05 657.50) rotate(-90)" font-size="9.7" fill="#505050" text-anchor="end" textLength="19.70" lengthAdjust="spacingAndGlyphs">2016</text>
<text transform="translate(296.64 657.50) rotate(-90)" font-size="9.7" fill="#505050" text-anchor="end" textLength="19.70" lengthAdjust="spacingAndGlyphs">2017</text>
<text transform="translate(309.24 657.50) rotate(-90)" font-size="9.7" fill="#505050" text-anchor="end" textLength="19.70" lengthAdjust="spacingAndGlyphs">2018</text>
<text transform="translate(321.83 657.50) rotate(-90)" font-size="9.7" fill="#505050" text-anchor="end" textLength="19.70" lengthAdjust="spacingAndGlyphs">2019</text>
<text transform="translate(334.43 657.50) rotate(-90)" font-size="9.7" fill="#505050" text-anchor="end" textLength="19.70" lengthAdjust="spacingAndGlyphs">2020</text>
<text transform="translate(347.02 657.50) rotate(-90)" font-size="9.7" fill="#505050" text-anchor="end" textLength="19.70" lengthAdjust="spacingAndGlyphs">2021</text>
<text transform="translate(359.62 657.50) rotate(-90)" font-size="9.7" fill="#505050" text-anchor="end" textLength="19.70" lengthAdjust="spacingAndGlyphs">2022</text>
<text transform="translate(372.21 657.50) rotate(-90)" font-size="9.7" fill="#505050" text-anchor="end" textLength="19.70" lengthAdjust="spacingAndGlyphs">2023</text>
<text transform="translate(384.81 657.50) rotate(-90)" font-size="9.7" fill="#505050" text-anchor="end" textLength="25.00" lengthAdjust="spacingAndGlyphs">2024e</text>
<text transform="translate(397.40 657.50) rotate(-90)" font-size="9.7" fill="#505050" text-anchor="end" textLength="25.00" lengthAdjust="spacingAndGlyphs">2025e</text>
<rect x="154.30" y="694.60" width="18.30" height="4.80" fill="#ff7400"/>
<text x="175.30" y="699.60" font-size="8.5" fill="#505050" textLength="120.40" lengthAdjust="spacingAndGlyphs">Nº de transacciones (Eje Drcha.)</text>
<line x1="314.30" y1="697.00" x2="333.40" y2="697.00" stroke="#c6e5ea" stroke-width="1.1"/>
<text x="335.30" y="699.60" font-size="8.5" fill="#505050" textLength="71.20" lengthAdjust="spacingAndGlyphs">% var. a/a (Eje Izq.)</text>
<text x="99.60" y="720.60" font-size="8.6" fill="#3c3c3c" font-style="italic" textLength="211.00" lengthAdjust="spacingAndGlyphs">Fuente: Análisis y Mercados Bankinter con datos del INE</text>
</g>
<g id="cuadro-8">
<rect x="520.20" y="531.80" width="371.20" height="195.60" fill="#ffffff"/>
<text x="524.90" y="542.00" font-size="9" fill="#505050" textLength="144.40" lengthAdjust="spacingAndGlyphs">Cuadro 8. Precios del suelo (% var a/a)</text>
<line x1="524.50" y1="545.00" x2="886.70" y2="545.00" stroke="#f08f4c" stroke-width="1.0"/>
<line x1="524.50" y1="709.40" x2="886.70" y2="709.40" stroke="#f08f4c" stroke-width="1.0"/>
<line x1="576.60" y1="560.40" x2="876.30" y2="560.40" stroke="#dfe1e3" stroke-width="1"/>
<text x="569.20" y="563.10" font-size="9.8" fill="#505050" text-anchor="end">15</text>
<line x1="576.60" y1="575.01" x2="876.30" y2="575.01" stroke="#dfe1e3" stroke-width="1"/>
<text x="569.20" y="577.71" font-size="9.8" fill="#505050" text-anchor="end">10</text>
<line x1="576.60" y1="589.62" x2="876.30" y2="589.62" stroke="#dfe1e3" stroke-width="1"/>
<text x="569.20" y="592.33" font-size="9.8" fill="#505050" text-anchor="end">5</text>
<line x1="576.60" y1="604.24" x2="876.30" y2="604.24" stroke="#dfe1e3" stroke-width="1"/>
<text x="569.20" y="606.94" font-size="9.8" fill="#505050" text-anchor="end">0</text>
<line x1="576.60" y1="618.85" x2="876.30" y2="618.85" stroke="#dfe1e3" stroke-width="1"/>
<text x="569.20" y="621.55" font-size="9.8" fill="#505050" text-anchor="end">-5</text>
<line x1="576.60" y1="633.46" x2="876.30" y2="633.46" stroke="#dfe1e3" stroke-width="1"/>
<text x="569.20" y="636.16" font-size="9.8" fill="#505050" text-anchor="end">-10</text>
<line x1="576.60" y1="648.07" x2="876.30" y2="648.07" stroke="#dfe1e3" stroke-width="1"/>
<text x="569.20" y="650.77" font-size="9.8" fill="#505050" text-anchor="end">-15</text>
<line x1="576.60" y1="662.69" x2="876.30" y2="662.69" stroke="#dfe1e3" stroke-width="1"/>
<text x="569.20" y="665.39" font-size="9.8" fill="#505050" text-anchor="end">-20</text>
<line x1="576.60" y1="677.30" x2="876.30" y2="677.30" stroke="#dfe1e3" stroke-width="1"/>
<text x="569.20" y="680.00" font-size="9.8" fill="#505050" text-anchor="end">-25</text>
<line x1="576.60" y1="559.90" x2="576.60" y2="677.80" stroke="#4a4a4a" stroke-width="1.2"/>
<line x1="576.60" y1="604.20" x2="876.80" y2="604.20" stroke="#4a4a4a" stroke-width="1.2"/>
<line x1="576.60" y1="604.20" x2="576.60" y2="607.20" stroke="#4a4a4a" stroke-width="1"/>
<line x1="590.87" y1="604.20" x2="590.87" y2="607.20" stroke="#4a4a4a" stroke-width="1"/>
<line x1="605.14" y1="604.20" x2="605.14" y2="607.20" stroke="#4a4a4a" stroke-width="1"/>
<line x1="619.41" y1="604.20" x2="619.41" y2="607.20" stroke="#4a4a4a" stroke-width="1"/>
<line x1="633.69" y1="604.20" x2="633.69" y2="607.20" stroke="#4a4a4a" stroke-width="1"/>
<line x1="647.96" y1="604.20" x2="647.96" y2="607.20" stroke="#4a4a4a" stroke-width="1"/>
<line x1="662.23" y1="604.20" x2="662.23" y2="607.20" stroke="#4a4a4a" stroke-width="1"/>
<line x1="676.50" y1="604.20" x2="676.50" y2="607.20" stroke="#4a4a4a" stroke-width="1"/>
<line x1="690.77" y1="604.20" x2="690.77" y2="607.20" stroke="#4a4a4a" stroke-width="1"/>
<line x1="705.04" y1="604.20" x2="705.04" y2="607.20" stroke="#4a4a4a" stroke-width="1"/>
<line x1="719.31" y1="604.20" x2="719.31" y2="607.20" stroke="#4a4a4a" stroke-width="1"/>
<line x1="733.59" y1="604.20" x2="733.59" y2="607.20" stroke="#4a4a4a" stroke-width="1"/>
<line x1="747.86" y1="604.20" x2="747.86" y2="607.20" stroke="#4a4a4a" stroke-width="1"/>
<line x1="762.13" y1="604.20" x2="762.13" y2="607.20" stroke="#4a4a4a" stroke-width="1"/>
<line x1="776.40" y1="604.20" x2="776.40" y2="607.20" stroke="#4a4a4a" stroke-width="1"/>
<line x1="790.67" y1="604.20" x2="790.67" y2="607.20" stroke="#4a4a4a" stroke-width="1"/>
<line x1="804.94" y1="604.20" x2="804.94" y2="607.20" stroke="#4a4a4a" stroke-width="1"/>
<line x1="819.21" y1="604.20" x2="819.21" y2="607.20" stroke="#4a4a4a" stroke-width="1"/>
<line x1="833.49" y1="604.20" x2="833.49" y2="607.20" stroke="#4a4a4a" stroke-width="1"/>
<line x1="847.76" y1="604.20" x2="847.76" y2="607.20" stroke="#4a4a4a" stroke-width="1"/>
<line x1="862.03" y1="604.20" x2="862.03" y2="607.20" stroke="#4a4a4a" stroke-width="1"/>
<line x1="876.30" y1="604.20" x2="876.30" y2="607.20" stroke="#4a4a4a" stroke-width="1"/>
<polyline points="583.74,580.67 598.01,585.06 612.28,611.51 626.55,634.89 640.82,623.20 655.09,609.75 669.36,662.36 683.64,596.60 697.91,666.45 712.18,589.30 726.45,610.92 740.72,565.92 754.99,636.35 769.26,595.72 783.54,604.78 797.81,632.55 812.08,567.38 826.35,604.49 840.62,613.84 854.89,589.59 869.16,586.67" fill="none" stroke="#f47a1f" stroke-width="2.5" stroke-linejoin="round" stroke-linecap="round"/>
<text transform="translate(550.40 618.50) rotate(-90)" font-size="8.2" fill="#505050" text-anchor="middle">(%)</text>
<text transform="translate(587.14 682.60) rotate(-90)" font-size="9.8" fill="#505050" text-anchor="end" textLength="20.70" lengthAdjust="spacingAndGlyphs">2005</text>
<text transform="translate(601.41 682.60) rotate(-90)" font-size="9.8" fill="#505050" text-anchor="end" textLength="20.70" lengthAdjust="spacingAndGlyphs">2006</text>
<text transform="translate(615.68 682.60) rotate(-90)" font-size="9.8" fill="#505050" text-anchor="end" textLength="20.70" lengthAdjust="spacingAndGlyphs">2007</text>
<text transform="translate(629.95 682.60) rotate(-90)" font-size="9.8" fill="#505050" text-anchor="end" textLength="20.70" lengthAdjust="spacingAndGlyphs">2008</text>
<text transform="translate(644.22 682.60) rotate(-90)" font-size="9.8" fill="#505050" text-anchor="end" textLength="20.70" lengthAdjust="spacingAndGlyphs">2009</text>
<text transform="translate(658.49 682.60) rotate(-90)" font-size="9.8" fill="#505050" text-anchor="end" textLength="20.70" lengthAdjust="spacingAndGlyphs">2010</text>
<text transform="translate(672.76 682.60) rotate(-90)" font-size="9.8" fill="#505050" text-anchor="end" textLength="20.70" lengthAdjust="spacingAndGlyphs">2011</text>
<text transform="translate(687.04 682.60) rotate(-90)" font-size="9.8" fill="#505050" text-anchor="end" textLength="20.70" lengthAdjust="spacingAndGlyphs">2012</text>
<text transform="translate(701.31 682.60) rotate(-90)" font-size="9.8" fill="#505050" text-anchor="end" textLength="20.70" lengthAdjust="spacingAndGlyphs">2013</text>
<text transform="translate(715.58 682.60) rotate(-90)" font-size="9.8" fill="#505050" text-anchor="end" textLength="20.70" lengthAdjust="spacingAndGlyphs">2014</text>
<text transform="translate(729.85 682.60) rotate(-90)" font-size="9.8" fill="#505050" text-anchor="end" textLength="20.70" lengthAdjust="spacingAndGlyphs">2015</text>
<text transform="translate(744.12 682.60) rotate(-90)" font-size="9.8" fill="#505050" text-anchor="end" textLength="20.70" lengthAdjust="spacingAndGlyphs">2016</text>
<text transform="translate(758.39 682.60) rotate(-90)" font-size="9.8" fill="#505050" text-anchor="end" textLength="20.70" lengthAdjust="spacingAndGlyphs">2017</text>
<text transform="translate(772.66 682.60) rotate(-90)" font-size="9.8" fill="#505050" text-anchor="end" textLength="20.70" lengthAdjust="spacingAndGlyphs">2018</text>
<text transform="translate(786.94 682.60) rotate(-90)" font-size="9.8" fill="#505050" text-anchor="end" textLength="20.70" lengthAdjust="spacingAndGlyphs">2019</text>
<text transform="translate(801.21 682.60) rotate(-90)" font-size="9.8" fill="#505050" text-anchor="end" textLength="20.70" lengthAdjust="spacingAndGlyphs">2020</text>
<text transform="translate(815.48 682.60) rotate(-90)" font-size="9.8" fill="#505050" text-anchor="end" textLength="20.70" lengthAdjust="spacingAndGlyphs">2021</text>
<text transform="translate(829.75 682.60) rotate(-90)" font-size="9.8" fill="#505050" text-anchor="end" textLength="20.70" lengthAdjust="spacingAndGlyphs">2022</text>
<text transform="translate(844.02 682.60) rotate(-90)" font-size="9.8" fill="#505050" text-anchor="end" textLength="20.70" lengthAdjust="spacingAndGlyphs">2023</text>
<text transform="translate(858.29 682.60) rotate(-90)" font-size="9.8" fill="#505050" text-anchor="end" textLength="25.70" lengthAdjust="spacingAndGlyphs">2024e</text>
<text transform="translate(872.56 682.60) rotate(-90)" font-size="9.8" fill="#505050" text-anchor="end" textLength="25.70" lengthAdjust="spacingAndGlyphs">2025e</text>
<text x="855.00" y="580.70" font-size="9" fill="#505050" text-anchor="middle">5,0</text>
<text x="869.50" y="578.00" font-size="9" fill="#505050" text-anchor="middle">6,0</text>
<text x="826.30" y="595.20" font-size="9" fill="#505050" text-anchor="middle">-0,1</text>
<text x="838.00" y="625.80" font-size="9" fill="#505050" text-anchor="middle">-3,3</text>
<text x="525.70" y="719.50" font-size="8.6" fill="#3c3c3c" font-style="italic" textLength="308.30" lengthAdjust="spacingAndGlyphs">Fuente: Análisis y Mercados Bankinter con datos del INE y Ministerio de Fomento</text>
</g>
</svg>
</body>
</html>
